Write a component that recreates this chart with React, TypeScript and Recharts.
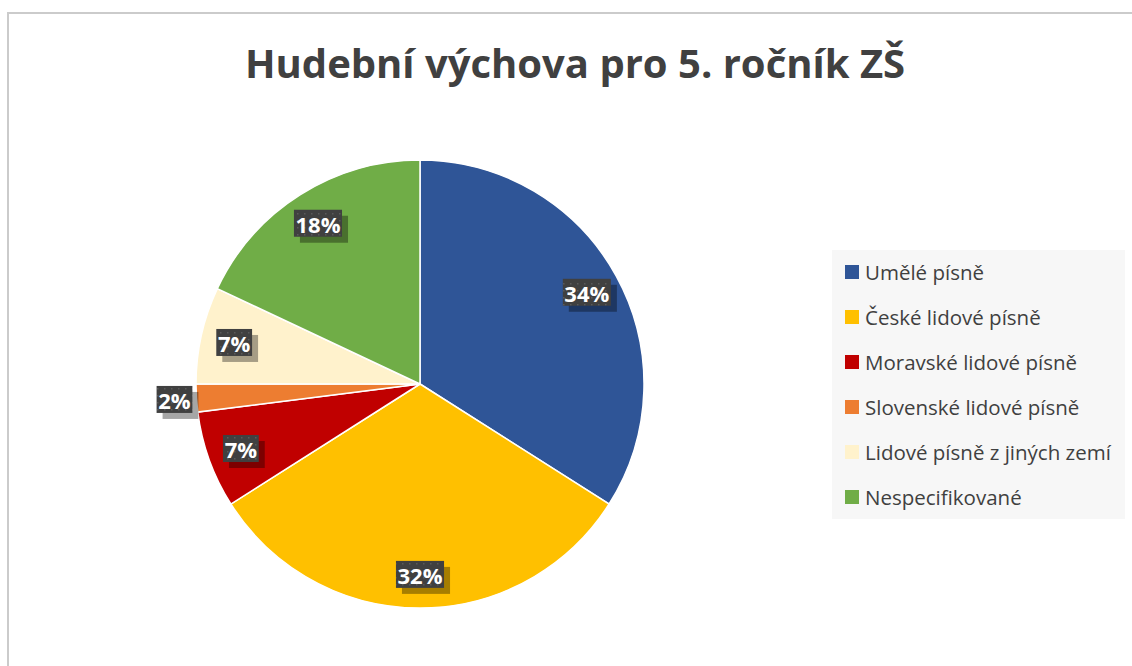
import React from "react";
import { PieChart, Pie, Cell, Legend } from "recharts";

const title = "Hudební výchova pro 5. ročník ZŠ";
const categories = [
  "Umělé písně",
  "České lidové písně",
  "Moravské lidové písně",
  "Slovenské lidové písně",
  "Lidové písně z jiných zemí",
  "Nespecifikované",
];
const values = [34, 32, 7, 2, 7, 18];
const colors = ["#2F5597", "#FFC000", "#C00000", "#ED7D31", "#FFF2CC", "#70AD47"];

const data = categories.map((name, i) => ({ name, value: values[i] }));

const RAD = Math.PI / 180;
const FONT = "'Open Sans', 'Noto Sans', sans-serif";

const renderLabel = (props: any) => {
  const { cx, cy, midAngle, outerRadius, percent } = props;
  const d = percent < 0.05 ? outerRadius + 22 : outerRadius * 0.85;
  const x = cx + d * Math.cos(-midAngle * RAD);
  const y = cy + d * Math.sin(-midAngle * RAD);
  const txt = `${Math.round(percent * 100)}%`;
  const w = (txt.length - 1) * 12.3 + 18.5 + 5;
  const h = 27;
  return (
    <g>
      <rect x={x - w / 2 + 6} y={y - h / 2 + 6} width={w} height={h} fill="rgba(0,0,0,0.35)" />
      <rect x={x - w / 2} y={y - h / 2} width={w} height={h} fill="url(#dotPattern)" />
      <text
        x={x}
        y={y + 1}
        fill="#ffffff"
        textAnchor="middle"
        dominantBaseline="central"
        style={{ fontFamily: FONT, fontWeight: 700, fontSize: 22 }}
      >
        {txt}
      </text>
    </g>
  );
};

const renderLegend = () => (
  <div
    style={{
      background: "#f7f7f7",
      width: 293,
      height: 269,
      boxSizing: "border-box",
      paddingLeft: 13,
      fontFamily: FONT,
      fontSize: 20.5,
      color: "#404040",
      overflow: "hidden",
    }}
  >
    <div style={{ marginTop: -1 }}>
      {categories.map((c, i) => (
        <div key={c} style={{ display: "flex", alignItems: "center", height: 45 }}>
          <div style={{ width: 14, height: 14, background: colors[i], marginRight: 6, flexShrink: 0 }} />
          <span style={{ whiteSpace: "nowrap" }}>{c}</span>
        </div>
      ))}
    </div>
  </div>
);

export default function App() {
  return (
    <div
      style={{
        position: "fixed",
        left: 0,
        top: 0,
        width: 1132,
        height: 666,
        overflow: "hidden",
        background: "#ffffff",
      }}
    >
      <div
        style={{
          position: "absolute",
          left: 7,
          top: 12,
          width: 2000,
          height: 2000,
          borderTop: "2px solid #cbcbcb",
          borderLeft: "2px solid #cbcbcb",
        }}
      />
      <div
        style={{
          position: "absolute",
          left: 0,
          top: 35,
          width: 1150,
          textAlign: "center",
          fontFamily: FONT,
          fontWeight: 700,
          fontSize: 40,
          lineHeight: "56px",
          color: "#404040",
          whiteSpace: "nowrap",
        }}
      >
        {title}
      </div>
      <div style={{ position: "absolute", left: 0, top: 0 }}>
        <PieChart width={1132} height={666} margin={{ top: 0, right: 0, bottom: 0, left: 0 }}>
          <defs>
            <pattern id="dotPattern" width="7" height="7" patternUnits="userSpaceOnUse">
              <rect width="7" height="7" fill="#404040" />
              <rect x="3" y="3" width="1.5" height="1.5" fill="#5a5a5a" />
            </pattern>
          </defs>
          <Pie
            data={data}
            dataKey="value"
            nameKey="name"
            cx={420}
            cy={384}
            outerRadius={224}
            startAngle={90}
            endAngle={-270}
            stroke="#ffffff"
            strokeWidth={1.5}
            label={renderLabel}
            labelLine={false}
            isAnimationActive={false}
          >
            {data.map((d, i) => (
              <Cell key={d.name} fill={colors[i]} />
            ))}
          </Pie>
          <Legend
            content={renderLegend}
            wrapperStyle={{ position: "absolute", left: 832, top: 250, width: 293, height: 269 }}
          />
        </PieChart>
      </div>
    </div>
  );
}
